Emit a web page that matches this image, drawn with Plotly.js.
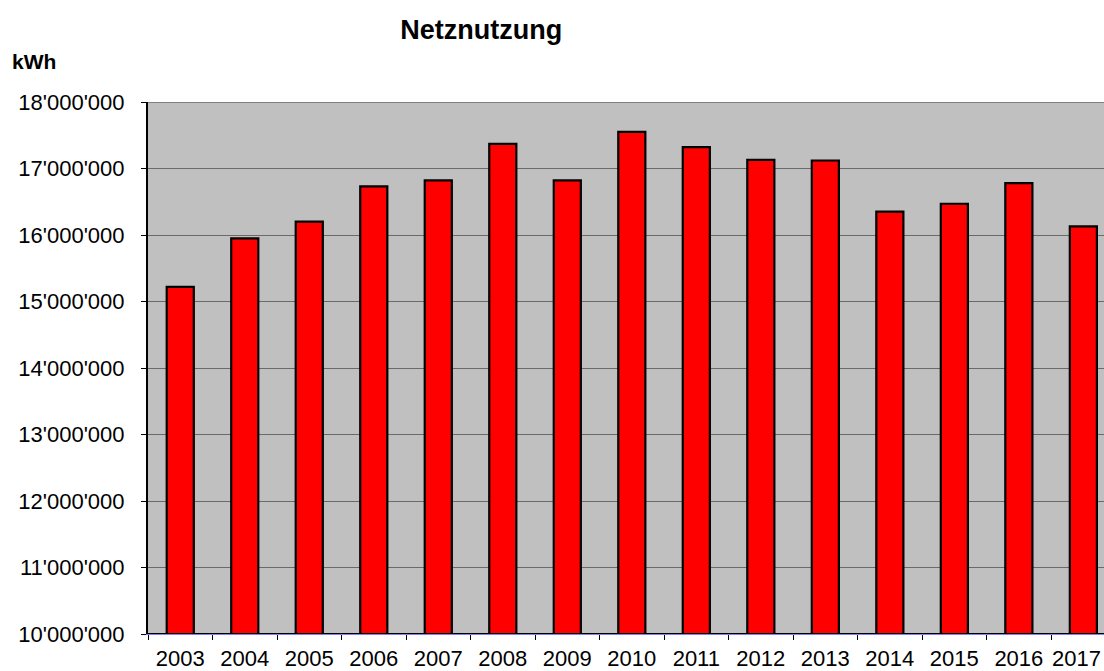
<!DOCTYPE html>
<html>
<head>
<meta charset="utf-8">
<script src="https://cdn.plot.ly/plotly-3.0.1.min.js"></script>
<style>
html,body{margin:0;padding:0;background:#fff;overflow:hidden;}
#chart{width:1104px;height:671px;}
</style>
</head>
<body>
<div id="chart"></div>
<script>
const years = ["2003","2004","2005","2006","2007","2008","2009","2010","2011","2012","2013","2014","2015","2016","2017"];
const netznutzung = [15220000,15950000,16200000,16730000,16820000,17370000,16820000,17550000,17320000,17130000,17120000,16350000,16470000,16780000,16130000];
const yTicks = [10000000,11000000,12000000,13000000,14000000,15000000,16000000,17000000,18000000];

// the last label is drawn as an annotation (shifted left, as in the reference, to stay inside the picture)
const lastIndex = years.length - 1;
const lastYear = years[lastIndex];
const yearLabels = years.map((y, i) => i === lastIndex ? '' : y);

const trace = {
  type: 'bar',
  x: years,
  y: netznutzung,
  base: 0,
  marker: {color: '#ff0000', line: {color: '#000000', width: 2.2}},
  hoverinfo: 'x+y'
};

const font = 'Liberation Sans, Arial, sans-serif';

const layout = {
  width: 1104,
  height: 671,
  margin: {l: 148, r: 0, t: 102, b: 37, pad: 0},
  paper_bgcolor: '#ffffff',
  plot_bgcolor: '#c0c0c0',
  separators: ".'",
  bargap: 0.58,
  showlegend: false,
  font: {family: font, color: '#000000', size: 22},
  title: {
    text: '<b>Netznutzung</b>',
    font: {family: font, size: 27, color: '#000000'},
    xref: 'container', x: 0.436, xanchor: 'center',
    yref: 'container', y: 1 - 30/671, yanchor: 'middle'
  },
  xaxis: {
    type: 'category',
    range: [-0.5, 14.32],
    tickmode: 'array',
    tickvals: years,
    ticktext: yearLabels,
    tickangle: 0,
    tickson: 'boundaries',
    ticks: 'outside',
    ticklen: 5,
    tickcolor: '#000000',
    tickwidth: 1,
    showgrid: false,
    showline: true,
    linecolor: '#8080ff',
    linewidth: 1,
    zeroline: false,
    ticklabelstandoff: 5,
    tickfont: {size: 22, family: font},
    fixedrange: true
  },
  yaxis: {
    range: [10000000, 18000000],
    tickvals: yTicks,
    tickformat: ',d',
    ticks: 'outside',
    ticklen: 5,
    tickcolor: '#000000',
    showgrid: true,
    gridcolor: '#6a6a6a',
    gridwidth: 1,
    showline: true,
    linecolor: '#000000',
    linewidth: 2,
    zeroline: false,
    ticklabelstandoff: 12,
    tickfont: {size: 22, family: font},
    fixedrange: true
  },
  shapes: [
    {type: 'line', xref: 'paper', yref: 'y', x0: 0, x1: 1, y0: 10000000, y1: 10000000, line: {color: '#000000', width: 2}},
    {type: 'line', xref: 'paper', yref: 'y', x0: 0, x1: 1, y0: 18000000, y1: 18000000, line: {color: '#808080', width: 2}}
  ],
  annotations: [
    {text: '<b>kWh</b>', xref: 'paper', yref: 'paper', x: (10 - 148) / 956, y: (634 - 62) / 532, showarrow: false,
     xanchor: 'left', yanchor: 'middle', font: {size: 21, family: font}},
    {text: lastYear, xref: 'x', yref: 'paper', x: lastIndex, y: 0, yshift: -11, xshift: -7, showarrow: false,
     xanchor: 'center', yanchor: 'top', borderpad: 0, font: {size: 22, family: font}}
  ]
};

Plotly.newPlot('chart', [trace], layout, {displayModeBar: false, staticPlot: true});
</script>
</body>
</html>
